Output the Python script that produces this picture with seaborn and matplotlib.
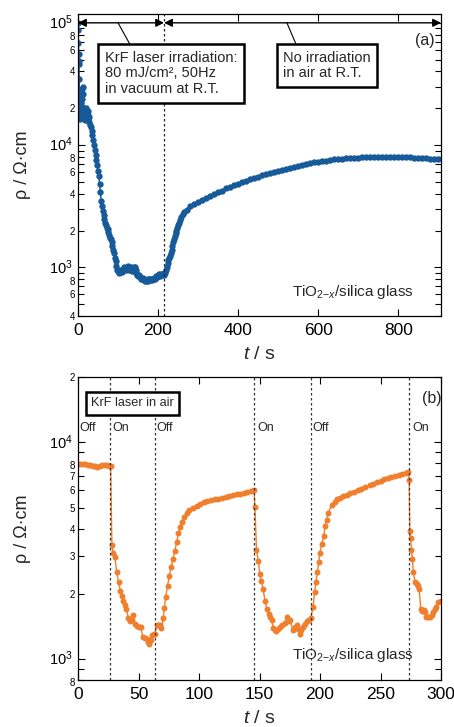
import numpy as np
import pandas as pd
import matplotlib
matplotlib.use("Agg")
import matplotlib.pyplot as plt
import matplotlib.transforms as mtransforms
import seaborn as sns
from matplotlib.ticker import LogLocator, FuncFormatter

# ---------------- data ----------------
# Panel (a): KrF irradiation in vacuum then no irradiation in air
top_t = [0, 0.5, 1, 1.5, 2, 2.5, 3, 3.5, 4, 5, 6, 7, 8, 9, 10, 11, 12, 13, 14, 15,
         16, 17, 18, 19, 20, 21, 22, 23, 24, 25, 26, 27, 28, 30, 32, 34, 36, 38, 40, 42,
         44, 46, 48, 50, 52, 54, 56, 58, 60, 62, 64, 66, 68, 70, 72, 74, 76, 78, 80, 82,
         84, 86, 88, 90, 92, 94, 96, 98, 100, 102, 104, 106, 108, 110, 112, 114, 116, 118, 120, 122,
         124, 126, 128, 130, 132, 134, 136, 138, 140, 142, 144, 146, 148, 150, 152, 154, 156, 158, 160, 162,
         164, 166, 168, 170, 172, 174, 176, 178, 180, 182, 184, 186, 188, 190, 192, 194, 196, 198, 200, 202,
         204, 206, 208, 210, 212, 214, 216, 218, 220, 222, 224, 226, 228, 230, 232, 234, 236, 238, 240, 242,
         244, 246, 248, 250, 252, 255, 258, 262, 266, 272, 280, 290, 300, 310, 320, 330, 340, 350, 360, 370,
         380, 390, 400, 410, 420, 430, 440, 450, 460, 470, 480, 490, 500, 510, 520, 530, 540, 550, 560, 570,
         580, 590, 600, 610, 620, 630, 640, 650, 660, 670, 680, 690, 700, 710, 720, 730, 740, 750, 760, 770,
         780, 790, 800, 810, 820, 830, 840, 850, 860, 870, 880, 890, 900]
top_rho = [1.0e5, 8.7e4, 6.9e4, 5.6e4, 4.9e4, 4.6e4, 3.5e4, 2.4e4, 1.65e4, 2.0e4, 1.7e4, 2.6e4, 2.2e4, 1.8e4, 2.4e4, 2.9e4, 3.0e4, 2.6e4, 2.0e4, 1.7e4,
           1.8e4, 1.6e4, 1.75e4, 1.95e4, 2.0e4, 1.85e4, 1.7e4, 1.8e4, 1.9e4, 1.75e4, 1.65e4, 1.7e4, 1.55e4, 1.45e4, 1.4e4, 1.3e4, 1.2e4, 1.1e4, 1.0e4, 9.2e3,
           8.3e3, 7.5e3, 6.9e3, 6.1e3, 5.6e3, 4.8e3, 4.1e3, 3.5e3, 3.2e3, 2.9e3, 2.7e3, 2.5e3, 2.3e3, 2.2e3, 2.1e3, 2.05e3, 1.95e3, 1.85e3, 1.75e3, 1.7e3,
           1.6e3, 1.5e3, 1.4e3, 1.3e3, 1.2e3, 1.12e3, 1.02e3, 950, 930, 900, 920, 960, 940, 910, 950, 990, 1010, 990, 960, 1000,
           1030, 990, 960, 980, 1010, 970, 940, 960, 1000, 1010, 950, 900, 870, 850, 860, 830, 840, 810, 800, 820,
           790, 800, 780, 770, 790, 800, 780, 800, 790, 810, 800, 790, 810, 820, 800, 830, 850, 840, 860, 880,
           850, 870, 880, 860, 880, 900, 870, 900, 950, 1000, 1080, 1150, 1200, 1250, 1300, 1400, 1500, 1600, 1700, 1800,
           1900, 2000, 2100, 2200, 2300, 2450, 2600, 2750, 2850, 2950, 3150, 3300, 3450, 3580, 3700, 3800, 3950, 4100, 4250, 4450,
           4580, 4700, 4820, 4950, 5100, 5250, 5400, 5520, 5650, 5780, 5900, 6020, 6130, 6250, 6360, 6470, 6600, 6750, 6880, 7000,
           7120, 7230, 7320, 7400, 7480, 7560, 7630, 7700, 7750, 7800, 7850, 7880, 7910, 7940, 7960, 7980, 8000, 8010, 8020, 8030,
           8020, 8010, 8000, 7980, 7950, 7920, 7880, 7850, 7800, 7780, 7750, 7730, 7720]

# Panel (b): KrF laser on/off in air
bot_t = [0, 2, 4, 6, 8, 10, 12, 14, 16, 18, 20, 22, 24, 26, 27,
         28, 29, 30.5, 32, 33.5, 35, 36.5, 37.5, 39, 40, 41.5, 43, 44.5, 45.5, 47, 48.5, 50, 52, 53.4, 55,
         56.7, 58, 59, 60, 61, 62.5, 63.6,
         65, 66.5, 67.8, 69, 70.5, 71.3, 72.5, 74, 75.5, 77, 78.5, 80, 81.5, 83, 84.5, 86, 88, 90, 92,
         95, 98, 101, 104, 107, 110, 113, 116, 119, 122, 125, 128, 131, 134, 137, 140, 143, 145.5,
         146.2, 147.5, 149, 150.3, 151.5, 153, 154.5, 156, 157.5, 158.5, 160, 161.4, 162.5, 164, 165.5, 167,
         169, 171, 172.5, 174, 175.5, 177.4, 179, 180.7, 182, 183.2, 184.5, 186, 188, 189.5, 191, 192.3,
         194.3, 195.5, 196.7, 197.8, 199, 200, 201.4, 203, 204.2, 205.5, 207, 209.6, 212, 214, 216.5, 219,
         222, 225, 228, 231, 234, 237, 241, 244, 247, 250, 253, 256, 259, 262, 265, 268, 271, 273,
         273.7, 274.2, 274.8, 275.5, 276.3, 277.2, 278.5, 280, 281, 282, 283.2, 284.5, 286, 287, 288, 289.5,
         291, 292.5, 293.6, 295, 296, 297.8, 299.7]
bot_rho = [7.95e3, 7.95e3, 7.9e3, 7.9e3, 7.85e3, 7.85e3, 7.8e3, 7.75e3, 7.7e3, 7.8e3, 7.85e3, 7.85e3, 7.85e3, 7.8e3, 7.8e3,
           3.35e3, 3.1e3, 2.95e3, 2.52e3, 2.27e3, 2.07e3, 1.95e3, 1.86e3, 1.78e3, 1.7e3, 1.55e3, 1.5e3, 1.52e3, 1.6e3, 1.45e3, 1.42e3, 1.41e3, 1.4e3, 1.27e3, 1.25e3,
           1.24e3, 1.2e3, 1.17e3, 1.22e3, 1.29e3, 1.3e3, 1.31e3,
           1.43e3, 1.44e3, 1.43e3, 1.39e3, 1.54e3, 1.72e3, 1.94e3, 2.18e3, 2.42e3, 2.66e3, 2.89e3, 3.15e3, 3.45e3, 3.8e3, 4.05e3, 4.3e3, 4.5e3, 4.7e3, 4.85e3,
           5.0e3, 5.1e3, 5.2e3, 5.3e3, 5.35e3, 5.4e3, 5.45e3, 5.5e3, 5.55e3, 5.6e3, 5.65e3, 5.7e3, 5.75e3, 5.8e3, 5.85e3, 5.9e3, 5.95e3, 6.05e3,
           5.05e3, 3.2e3, 2.83e3, 2.47e3, 2.3e3, 2.1e3, 1.86e3, 1.71e3, 1.62e3, 1.57e3, 1.51e3, 1.39e3, 1.36e3, 1.34e3, 1.38e3, 1.41e3,
           1.44e3, 1.46e3, 1.57e3, 1.5e3, 1.51e3, 1.36e3, 1.4e3, 1.43e3, 1.38e3, 1.31e3, 1.36e3, 1.41e3, 1.45e3, 1.49e3, 1.52e3, 1.54e3,
           1.74e3, 2.04e3, 2.27e3, 2.52e3, 2.8e3, 3.1e3, 3.4e3, 3.68e3, 4.1e3, 4.4e3, 4.73e3, 5.15e3, 5.3e3, 5.45e3, 5.54e3, 5.65e3,
           5.73e3, 5.82e3, 5.9e3, 6.0e3, 6.1e3, 6.2e3, 6.35e3, 6.45e3, 6.55e3, 6.65e3, 6.75e3, 6.85e3, 6.9e3, 6.98e3, 7.05e3, 7.15e3, 7.25e3, 7.3e3,
           6.7e3, 3.9e3, 3.6e3, 3.2e3, 2.9e3, 2.52e3, 2.27e3, 2.22e3, 2.18e3, 2.1e3, 1.71e3, 1.67e3, 1.68e3, 1.64e3, 1.57e3, 1.56e3,
           1.57e3, 1.6e3, 1.65e3, 1.7e3, 1.74e3, 1.84e3, 1.86e3]

switch_times = [26.5, 63.5, 145.5, 192.5, 273.5]
switch_labels = ["Off", "On", "Off", "On", "Off", "On"]
label_times = [1, 28, 65, 148, 194, 276]

top_xticks = [0, 200, 400, 600, 800]
bot_xticks = [0, 50, 100, 150, 200, 250, 300]

BLUE = "#175a9a"
ORANGE = "#ef7f2d"

# ---------------- style ----------------
sns.set_style("ticks")
plt.rcParams["font.family"] = ["Liberation Sans", "DejaVu Sans"]
plt.rcParams["mathtext.fontset"] = "custom"
plt.rcParams["mathtext.rm"] = "Liberation Sans"
plt.rcParams["mathtext.it"] = "Liberation Sans:italic"
plt.rcParams["mathtext.bf"] = "Liberation Sans:bold"
plt.rcParams["axes.edgecolor"] = "black"
plt.rcParams["axes.linewidth"] = 0.9
plt.rcParams["xtick.color"] = "black"
plt.rcParams["ytick.color"] = "black"

fig = plt.figure(figsize=(4.54, 7.27), dpi=100)
ax1 = fig.add_axes([0.1718, 0.5653, 0.7996, 0.4154])
ax2 = fig.add_axes([0.1718, 0.0646, 0.7996, 0.4168])

df_top = pd.DataFrame({"t": top_t, "rho": top_rho})
df_bot = pd.DataFrame({"t": bot_t, "rho": bot_rho})

sns.lineplot(data=df_top, x="t", y="rho", ax=ax1, color=BLUE, marker="o",
             markersize=4.6, markeredgewidth=0, linewidth=1.1, sort=False, estimator=None)
sns.lineplot(data=df_bot, x="t", y="rho", ax=ax2, color=ORANGE, marker="o",
             markersize=4.3, markeredgewidth=0, linewidth=1, sort=False, estimator=None)


def style_axis(ax, xlim, ylim, xticks, minor_show):
    ax.set_yscale("log")
    ax.set_xlim(*xlim)
    ax.set_ylim(*ylim)
    ax.set_xticks(xticks)
    ax.yaxis.set_major_locator(LogLocator(base=10, numticks=10))
    ax.yaxis.set_minor_locator(LogLocator(base=10, subs=np.arange(2, 10), numticks=20))
    ax.yaxis.set_major_formatter(FuncFormatter(
        lambda v, p: r"$10^{%d}$" % int(round(np.log10(v)))))

    def minor_fmt(v, p):
        m = int(round(v / 10 ** np.floor(np.log10(v) + 1e-9)))
        return str(m) if m in minor_show else ""
    ax.yaxis.set_minor_formatter(FuncFormatter(minor_fmt))
    ax.tick_params(which="both", direction="in", top=True, right=True, width=0.8)
    ax.tick_params(axis="x", which="major", length=5, labelsize=12.5, pad=5)
    ax.tick_params(axis="y", which="major", length=5, labelsize=10.5, pad=4)
    ax.tick_params(axis="y", which="minor", length=4, labelsize=7, pad=2)
    ax.set_ylabel("ρ / Ω·cm", fontsize=13)
    ax.yaxis.set_label_coords(-0.13, 0.5)
    ax.set_xlabel(r"$t$ / s", fontsize=14)
    ax.xaxis.set_label_coords(0.5, -0.098)


style_axis(ax1, (0, 907), (400, 1.18e5), top_xticks, {2, 4, 6, 8})
style_axis(ax2, (0, 300), (800, 2.0001e4), bot_xticks, {2, 3, 4, 5, 6, 7, 8})

# nudge decade labels up and the "8" labels down a touch so they do not collide
fig.canvas.draw()
up = mtransforms.ScaledTranslation(0, 1.5 / 100, fig.dpi_scale_trans)
down = mtransforms.ScaledTranslation(0, -1.5 / 100, fig.dpi_scale_trans)
for ax in (ax1, ax2):
    for lab in ax.get_yticklabels(which="major"):
        lab.set_transform(lab.get_transform() + up)
    for lab in ax.get_yticklabels(which="minor"):
        if lab.get_text() == "8":
            lab.set_transform(lab.get_transform() + down)

# ---------------- panel (a) annotations ----------------
ax1.axvline(215, color="#222222", lw=0.9, ls=(0, (2, 2)))
arrow = dict(arrowstyle="<|-|>", color="black", lw=1, mutation_scale=12, shrinkA=0, shrinkB=0)
ax1.annotate("", xy=(0, 1e5), xytext=(215, 1e5), arrowprops=arrow, annotation_clip=False)
ax1.annotate("", xy=(215, 1e5), xytext=(907, 1e5), arrowprops=arrow, annotation_clip=False)
ax1.plot([100, 130], [1e5, 6.65e4], color="black", lw=0.8)
ax1.plot([522, 545], [1e5, 6.65e4], color="black", lw=0.8)
box = dict(boxstyle="square,pad=0.45", fc="white", ec="black", lw=1.8)
ax1.text(67.5, 5.9e4, "KrF laser irradiation:\n80 mJ/cm², 50Hz\nin vacuum at R.T.",
         ha="left", va="top", fontsize=10.5, linespacing=1.15, bbox=box)
ax1.text(512.5, 5.9e4, "No irradiation\nin air at R.T.",
         ha="left", va="top", fontsize=10.5, linespacing=1.15, bbox=box)
ax1.text(867, 7.2e4, "(a)", ha="center", va="center", fontsize=11.5)
ax1.text(840, 630, r"TiO$_{2\mathrm{-}x}$/silica glass", ha="right", va="center", fontsize=11)

# ---------------- panel (b) annotations ----------------
for v in switch_times:
    ax2.axvline(v, color="#333333", lw=0.9, ls=(0, (2, 2)))
for lt, lab in zip(label_times, switch_labels):
    ax2.text(lt, 1.16e4, lab, ha="left", va="center", fontsize=9)
box2 = dict(boxstyle="square,pad=0.4", fc="white", ec="black", lw=1.8)
ax2.text(10.7, 1.51e4, "KrF laser in air", ha="left", va="center", fontsize=9.2, bbox=box2)
ax2.text(292.5, 1.6e4, "(b)", ha="center", va="center", fontsize=11.5)
ax2.text(277.7, 1.04e3, r"TiO$_{2\mathrm{-}x}$/silica glass", ha="right", va="center", fontsize=11)

fig.savefig("out.png", dpi=100)
